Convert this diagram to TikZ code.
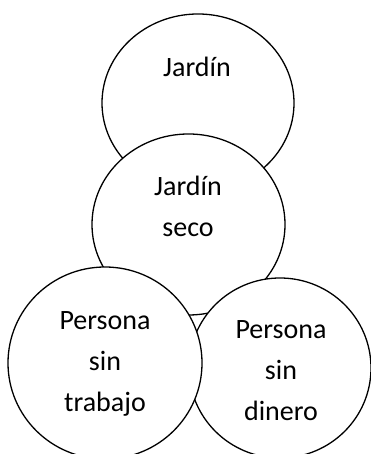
\documentclass[tikz,border=0pt]{standalone}
\usepackage{fontspec}
\setmainfont{Carlito}
\tikzset{bubble/.style={draw,line width=1.3pt,fill=white},
  txt/.style={align=center,font=\fontsize{28}{41}\selectfont,inner sep=0pt}}
\begin{document}
\begin{tikzpicture}[x=1pt,y=1pt]

	\useasboundingbox (0,0) rectangle (371,454);
	\clip (0,0) rectangle (371,454);

	\draw[bubble] (198,351) ellipse (96 and 89);
	\draw[bubble] (188.5,229.5) ellipse (96.5 and 90.5);
	\draw[bubble] (280,86) ellipse (91 and 90);
	\draw[bubble] (105,91) ellipse (97 and 96);

	% baseline of the last line
	\node[txt,anchor=base] (jardin) at (197,377) {Jardín};
	\node[txt,anchor=base] (seco) at (188,217) {Jardín\\seco};
	\node[txt,anchor=base] (trabajo) at (105,42) {Persona\\sin\\trabajo};
	\node[txt,anchor=base] (dinero) at (281,33) {Persona\\sin\\dinero};
\end{tikzpicture}
\end{document}
